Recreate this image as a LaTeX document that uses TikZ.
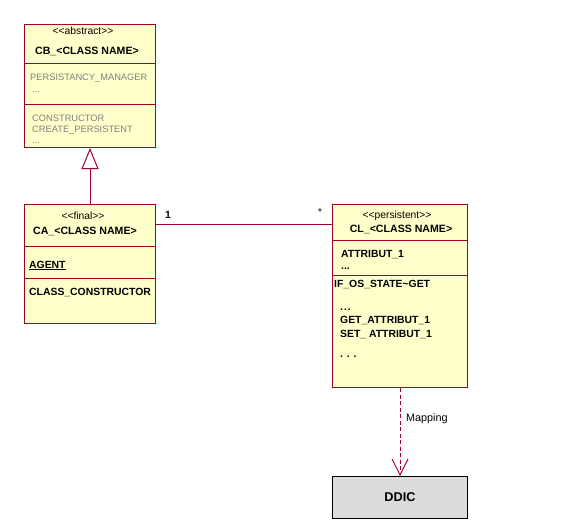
\documentclass[tikz,border=0pt]{standalone}
\usepackage{fontspec}
\setmainfont{Liberation Sans}
\usetikzlibrary{arrows.meta}
\definecolor{umlred}{RGB}{160,0,48}
\definecolor{umlfill}{RGB}{255,255,204}
\definecolor{umlgray}{RGB}{128,128,128}
\definecolor{ddicfill}{RGB}{220,220,220}
\newcommand\myll{<\kern0pt<}
\newcommand\mygg{>\kern0pt>}
\begin{document}
\begin{tikzpicture}[x=1pt,y=-1pt,
  classbox/.style={draw=umlred, fill=umlfill, line width=1pt, inner sep=0pt, anchor=north west},
  div/.style={draw=umlred, line width=1pt},
  stereo/.style={font=\fontsize{10.3}{12}\selectfont, inner sep=0pt, anchor=base},
  cname/.style={font=\fontsize{10.6}{12}\selectfont\bfseries, inner sep=0pt, anchor=base},
  member/.style={font=\fontsize{10.4}{12}\selectfont\bfseries, inner sep=0pt, anchor=base west},
  grey/.style={font=\fontsize{9.3}{11}\selectfont, text=umlgray, inner sep=0pt, anchor=base west},
  plain/.style={font=\fontsize{10.8}{12}\selectfont, inner sep=0pt, anchor=base west},
  assoc/.style={draw=umlred, line width=1pt},
  gen/.style={draw=umlred, line width=1pt, -{Triangle[open, length=21pt, width=17pt, fill=white]}},
  dep/.style={draw=umlred, line width=1pt, dash pattern=on 4pt off 2.5pt, -{Straight Barb[length=16pt, width=16pt]}},
]
\fill[white] (0,0) rectangle (575,527);
\useasboundingbox (0,0) rectangle (575,527);

% CB class
\node[classbox, minimum width=131pt, minimum height=123pt] (cb) at (24,24) {};
\draw[div] (cb.west |- 0,63.5) -- (cb.east |- 0,63.5);
\draw[div] (cb.west |- 0,104) -- (cb.east |- 0,104);
\node[stereo] (cbst) at (83,35) {\myll abstract\mygg};
\node[cname] (cbn) at (87,55) {CB\_<CLASS NAME>};
\node[grey] (cba1) at (30,80) {PERSISTANCY\_MANAGER};
\node[grey] (cba2) at (32,92) {...};
\node[grey] (cbm1) at (32,121) {CONSTRUCTOR};
\node[grey] (cbm2) at (32,132) {CREATE\_PERSISTENT};
\node[grey] (cbm3) at (32,143) {...};

% CA class
\node[classbox, minimum width=131pt, minimum height=119pt] (ca) at (24,204) {};
\draw[div] (ca.west |- 0,246) -- (ca.east |- 0,246);
\draw[div] (ca.west |- 0,278) -- (ca.east |- 0,278);
\node[stereo] (cast) at (83,219) {\myll final\mygg};
\node[cname] (can) at (85,234) {CA\_<CLASS NAME>};
\node[member] (caa1) at (29,268) {\underline{AGENT}};
\node[member] (cam1) at (29,295) {CLASS\_CONSTRUCTOR};

% CL class
\node[classbox, minimum width=135pt, minimum height=183pt] (cl) at (332,204) {};
\draw[div] (cl.west |- 0,240) -- (cl.east |- 0,240);
\draw[div] (cl.west |- 0,275) -- (cl.east |- 0,275);
\node[stereo] (clst) at (397,218) {\myll persistent\mygg};
\node[cname] (cln) at (401,232) {CL\_<CLASS NAME>};
\node[member] (cla1) at (341,257) {ATTRIBUT\_1};
\node[member] (cla2) at (341,269) {...};
\node[member] (clm1) at (334,287) {IF\_OS\_STATE\textasciitilde GET};
\node[member] (clm2) at (340,310) {.\kern1pt.\kern1pt.};
\node[member] (clm3) at (340,323) {GET\_ATTRIBUT\_1};
\node[member] (clm4) at (340,337) {SET\_ ATTRIBUT\_1};
\node[member] (clm5) at (340,357) {. . .};

% DDIC
\node[draw=black, fill=ddicfill, line width=1pt, inner sep=0pt, anchor=north west,
      minimum width=135pt, minimum height=42pt,
      font=\fontsize{12.7}{14}\selectfont\bfseries] (ddic) at (332,476) {DDIC};

% connectors
\draw[gen] (ca.north) -- (cb.south);
\draw[assoc] ([yshift=-20pt]ca.north east) -- ([yshift=-20pt]cl.north west);
\node[member] (m1) at (165,218) {1};
\node[plain, font=\fontsize{10}{12}\selectfont] (m2) at (318,215) {*};
\draw[dep] (cl.south) -- (ddic.north);
\node[plain] (map) at (406,421.5) {Mapping};
\end{tikzpicture}
\end{document}
